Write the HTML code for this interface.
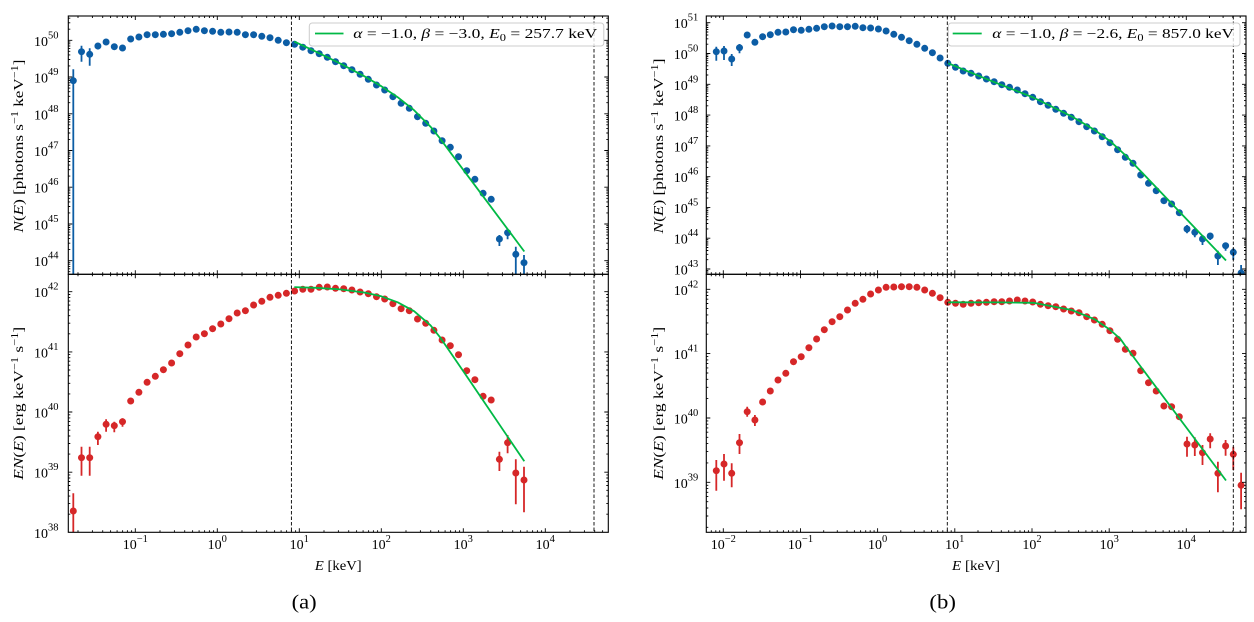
<!DOCTYPE html>
<html><head><meta charset="utf-8"><style>
html,body{margin:0;padding:0;background:#fff;}
svg{display:block;font-family:"Liberation Serif","DejaVu Serif",serif;}
</style></head><body>
<svg width="1254" height="622" viewBox="0 0 1254 622" xmlns="http://www.w3.org/2000/svg">
<defs>
<clipPath id="cau"><rect x="68.3" y="16" width="540" height="258.3"/></clipPath>
<clipPath id="cal"><rect x="68.3" y="274.3" width="540" height="258"/></clipPath>
<clipPath id="cbu"><rect x="706.3" y="16" width="539.7" height="258.3"/></clipPath>
<clipPath id="cbl"><rect x="706.3" y="274.3" width="539.7" height="258"/></clipPath>
<path id="xa" d="M135.3 0v4M217.3 0v4M299.3 0v4M381.3 0v4M463.3 0v4M545.3 0v4M78 0v2M92.4 0v2M102.7 0v2M110.6 0v2M117.1 0v2M122.6 0v2M127.4 0v2M131.6 0v2M160 0v2M174.4 0v2M184.7 0v2M192.6 0v2M199.1 0v2M204.6 0v2M209.4 0v2M213.6 0v2M242 0v2M256.4 0v2M266.7 0v2M274.6 0v2M281.1 0v2M286.6 0v2M291.4 0v2M295.6 0v2M324 0v2M338.4 0v2M348.7 0v2M356.6 0v2M363.1 0v2M368.6 0v2M373.4 0v2M377.6 0v2M406 0v2M420.4 0v2M430.7 0v2M438.6 0v2M445.1 0v2M450.6 0v2M455.4 0v2M459.6 0v2M488 0v2M502.4 0v2M512.7 0v2M520.6 0v2M527.1 0v2M532.6 0v2M537.4 0v2M541.6 0v2M570 0v2M584.4 0v2M594.7 0v2M602.6 0v2" stroke="#000" stroke-width="0.9" fill="none"/>
<path id="xb" d="M723.3 0v4M800.5 0v4M877.6 0v4M954.8 0v4M1032 0v4M1109.2 0v4M1186.3 0v4M711.3 0v2M715.8 0v2M719.7 0v2M746.5 0v2M760.1 0v2M769.8 0v2M777.2 0v2M783.4 0v2M788.5 0v2M793 0v2M796.9 0v2M823.7 0v2M837.3 0v2M847 0v2M854.4 0v2M860.6 0v2M865.7 0v2M870.2 0v2M874.1 0v2M900.8 0v2M914.4 0v2M924.1 0v2M931.5 0v2M937.7 0v2M942.8 0v2M947.3 0v2M951.2 0v2M978 0v2M991.6 0v2M1001.3 0v2M1008.7 0v2M1014.9 0v2M1020 0v2M1024.5 0v2M1028.4 0v2M1055.2 0v2M1068.8 0v2M1078.5 0v2M1085.9 0v2M1092.1 0v2M1097.2 0v2M1101.7 0v2M1105.6 0v2M1132.4 0v2M1146 0v2M1155.7 0v2M1163.1 0v2M1169.3 0v2M1174.4 0v2M1178.9 0v2M1182.8 0v2M1209.5 0v2M1223.1 0v2M1232.8 0v2M1240.2 0v2" stroke="#000" stroke-width="0.9" fill="none"/>
<path id="ya" d="M0 40.3h4M0 77h4M0 113.8h4M0 150.5h4M0 187.2h4M0 224h4M0 260.7h4M0 291.7h4M0 351.9h4M0 412h4M0 472.2h4M0 271.7h2M0 268.8h2M0 266.4h2M0 264.2h2M0 262.3h2M0 249.6h2M0 243.2h2M0 238.6h2M0 235h2M0 232.1h2M0 229.7h2M0 227.5h2M0 225.7h2M0 212.9h2M0 206.5h2M0 201.9h2M0 198.3h2M0 195.4h2M0 193h2M0 190.8h2M0 189h2M0 176.1h2M0 169.7h2M0 165.1h2M0 161.5h2M0 158.6h2M0 156.2h2M0 154h2M0 152.2h2M0 139.4h2M0 133h2M0 128.4h2M0 124.8h2M0 121.9h2M0 119.5h2M0 117.3h2M0 115.5h2M0 102.7h2M0 96.3h2M0 91.7h2M0 88.1h2M0 85.2h2M0 82.8h2M0 80.6h2M0 78.8h2M0 65.9h2M0 59.5h2M0 54.9h2M0 51.3h2M0 48.4h2M0 46h2M0 43.8h2M0 42h2M0 29.2h2M0 22.8h2M0 18.2h2M0 514.2h2M0 503.6h2M0 496.1h2M0 490.3h2M0 485.5h2M0 481.5h2M0 478h2M0 474.9h2M0 454.1h2M0 443.5h2M0 436h2M0 430.2h2M0 425.4h2M0 421.4h2M0 417.9h2M0 414.8h2M0 393.9h2M0 383.3h2M0 375.8h2M0 370h2M0 365.2h2M0 361.2h2M0 357.7h2M0 354.6h2M0 333.8h2M0 323.2h2M0 315.7h2M0 309.9h2M0 305.1h2M0 301.1h2M0 297.6h2M0 294.5h2" stroke="#000" stroke-width="0.9" fill="none"/>
<path id="yb" d="M0 22.7h4M0 53.5h4M0 84.3h4M0 115.1h4M0 145.9h4M0 176.7h4M0 207.4h4M0 238.2h4M0 269h4M0 289.3h4M0 353.6h4M0 418h4M0 482.3h4M0 273.8h2M0 272h2M0 270.4h2M0 259.7h2M0 254.3h2M0 250.5h2M0 247.5h2M0 245h2M0 243h2M0 241.2h2M0 239.6h2M0 228.9h2M0 223.5h2M0 219.7h2M0 216.7h2M0 214.2h2M0 212.2h2M0 210.4h2M0 208.8h2M0 198.1h2M0 192.7h2M0 188.9h2M0 185.9h2M0 183.4h2M0 181.4h2M0 179.6h2M0 178h2M0 167.4h2M0 162h2M0 158.2h2M0 155.2h2M0 152.7h2M0 150.7h2M0 148.9h2M0 147.3h2M0 136.6h2M0 131.2h2M0 127.4h2M0 124.4h2M0 121.9h2M0 119.9h2M0 118.1h2M0 116.5h2M0 105.8h2M0 100.4h2M0 96.6h2M0 93.6h2M0 91.1h2M0 89.1h2M0 87.3h2M0 85.7h2M0 75h2M0 69.6h2M0 65.8h2M0 62.8h2M0 60.3h2M0 58.3h2M0 56.5h2M0 54.9h2M0 44.2h2M0 38.8h2M0 35h2M0 32h2M0 29.5h2M0 27.5h2M0 25.7h2M0 24.1h2M0 527.3h2M0 516h2M0 508h2M0 501.7h2M0 496.6h2M0 492.3h2M0 488.6h2M0 485.3h2M0 462.9h2M0 451.6h2M0 443.6h2M0 437.3h2M0 432.2h2M0 427.9h2M0 424.2h2M0 420.9h2M0 398.6h2M0 387.3h2M0 379.3h2M0 373h2M0 367.9h2M0 363.6h2M0 359.9h2M0 356.6h2M0 334.2h2M0 322.9h2M0 314.9h2M0 308.6h2M0 303.5h2M0 299.2h2M0 295.5h2M0 292.2h2" stroke="#000" stroke-width="0.9" fill="none"/>
</defs>
<rect width="1254" height="622" fill="#fff"/>

<!-- ===== Panel (a) data ===== -->
<g clip-path="url(#cau)">
<path d="M73.3 69.3V274.3M81.5 45.7V61.7M89.7 48.3V65.7M97.9 43V49.5M499.4 235V246M507.6 230V239.3M515.8 246.7V274.3M524 255V274.3" stroke="#0C5DA5" stroke-width="1.8" fill="none"/>
<g fill="#0C5DA5">
<circle cx="73.3" cy="80.7" r="3.5"/><circle cx="81.5" cy="51.7" r="3.5"/><circle cx="89.7" cy="54.3" r="3.5"/><circle cx="97.9" cy="46" r="3.5"/><circle cx="106.1" cy="42" r="3.5"/><circle cx="114.3" cy="46.7" r="3.5"/><circle cx="122.5" cy="48" r="3.5"/><circle cx="130.7" cy="39" r="3.5"/><circle cx="138.9" cy="37" r="3.5"/><circle cx="147.1" cy="34.7" r="3.5"/><circle cx="155.3" cy="34.7" r="3.5"/><circle cx="163.4" cy="34.3" r="3.5"/><circle cx="171.6" cy="33.7" r="3.5"/><circle cx="179.8" cy="32.3" r="3.5"/><circle cx="188" cy="30.7" r="3.5"/><circle cx="196.2" cy="29.3" r="3.5"/><circle cx="204.4" cy="30.7" r="3.5"/><circle cx="212.6" cy="31.3" r="3.5"/><circle cx="220.8" cy="32.3" r="3.5"/><circle cx="229" cy="32" r="3.5"/><circle cx="237.2" cy="32.3" r="3.5"/><circle cx="245.4" cy="34.7" r="3.5"/><circle cx="253.6" cy="34.7" r="3.5"/><circle cx="261.8" cy="36.3" r="3.5"/><circle cx="270" cy="37.7" r="3.5"/><circle cx="278.2" cy="40.3" r="3.5"/><circle cx="286.4" cy="42.7" r="3.5"/><circle cx="294.6" cy="44.3" r="3.5"/><circle cx="302.8" cy="47.2" r="3.5"/><circle cx="311" cy="50.7" r="3.5"/><circle cx="319.2" cy="53.7" r="3.5"/><circle cx="327.3" cy="57.3" r="3.5"/><circle cx="335.5" cy="61.7" r="3.5"/><circle cx="343.7" cy="65.7" r="3.5"/><circle cx="351.9" cy="69.7" r="3.5"/><circle cx="360.1" cy="74.3" r="3.5"/><circle cx="368.3" cy="79.3" r="3.5"/><circle cx="376.5" cy="85" r="3.5"/><circle cx="384.7" cy="90" r="3.5"/><circle cx="392.9" cy="96.7" r="3.5"/><circle cx="401.1" cy="103.3" r="3.5"/><circle cx="409.3" cy="108.3" r="3.5"/><circle cx="417.5" cy="116.7" r="3.5"/><circle cx="425.7" cy="123.3" r="3.5"/><circle cx="433.9" cy="131" r="3.5"/><circle cx="442.1" cy="140.7" r="3.5"/><circle cx="450.3" cy="147.3" r="3.5"/><circle cx="458.5" cy="156.7" r="3.5"/><circle cx="466.7" cy="170.7" r="3.5"/><circle cx="474.9" cy="179.3" r="3.5"/><circle cx="483.1" cy="193.3" r="3.5"/><circle cx="491.2" cy="199.3" r="3.5"/><circle cx="499.4" cy="239" r="3.5"/><circle cx="507.6" cy="232.7" r="3.5"/><circle cx="515.8" cy="254.3" r="3.5"/><circle cx="524" cy="262.7" r="3.5"/>
</g>
<path d="M294.3 41.6L315.7 51.6L340.3 63.6L364.9 76.6L381.3 86.2L397.7 97.2L414.1 110.2L430.5 126.7L439.7 138.1L463.3 169.8L524.3 251.5" stroke="#00B945" stroke-width="1.8" fill="none" stroke-linejoin="round"/>
</g>

<g clip-path="url(#cal)">
<path d="M73.3 493.3V532.3M81.5 446.7V475.7M89.7 446.7V475.7M97.9 431.7V445M106.1 419.3V431.7M114.3 421.7V432.3M122.5 418.3V426.7M499.4 451.7V471M507.6 435V453.3M515.8 459.3V504.3M524 466.7V512.3" stroke="#d62728" stroke-width="1.8" fill="none"/>
<g fill="#d62728">
<circle cx="73.3" cy="511" r="3.5"/><circle cx="81.5" cy="457.7" r="3.5"/><circle cx="89.7" cy="457.7" r="3.5"/><circle cx="97.9" cy="436.7" r="3.5"/><circle cx="106.1" cy="424.3" r="3.5"/><circle cx="114.3" cy="425.7" r="3.5"/><circle cx="122.5" cy="421.7" r="3.5"/><circle cx="130.7" cy="401" r="3.5"/><circle cx="138.9" cy="392.3" r="3.5"/><circle cx="147.1" cy="382.3" r="3.5"/><circle cx="155.3" cy="376.3" r="3.5"/><circle cx="163.4" cy="369.7" r="3.5"/><circle cx="171.6" cy="363" r="3.5"/><circle cx="179.8" cy="353.7" r="3.5"/><circle cx="188" cy="345" r="3.5"/><circle cx="196.2" cy="337" r="3.5"/><circle cx="204.4" cy="333.7" r="3.5"/><circle cx="212.6" cy="328.7" r="3.5"/><circle cx="220.8" cy="324" r="3.5"/><circle cx="229" cy="318.7" r="3.5"/><circle cx="237.2" cy="313" r="3.5"/><circle cx="245.4" cy="310.7" r="3.5"/><circle cx="253.6" cy="305" r="3.5"/><circle cx="261.8" cy="301.3" r="3.5"/><circle cx="270" cy="297.3" r="3.5"/><circle cx="278.2" cy="295.3" r="3.5"/><circle cx="286.4" cy="293.3" r="3.5"/><circle cx="294.6" cy="291" r="3.5"/><circle cx="302.8" cy="289.3" r="3.5"/><circle cx="311" cy="289.3" r="3.5"/><circle cx="319.2" cy="287.3" r="3.5"/><circle cx="327.3" cy="287" r="3.5"/><circle cx="335.5" cy="288.3" r="3.5"/><circle cx="343.7" cy="288.7" r="3.5"/><circle cx="351.9" cy="290" r="3.5"/><circle cx="360.1" cy="292" r="3.5"/><circle cx="368.3" cy="293.7" r="3.5"/><circle cx="376.5" cy="296.7" r="3.5"/><circle cx="384.7" cy="299" r="3.5"/><circle cx="392.9" cy="303.7" r="3.5"/><circle cx="401.1" cy="308.7" r="3.5"/><circle cx="409.3" cy="310.7" r="3.5"/><circle cx="417.5" cy="319" r="3.5"/><circle cx="425.7" cy="323.3" r="3.5"/><circle cx="433.9" cy="330.3" r="3.5"/><circle cx="442.1" cy="340" r="3.5"/><circle cx="450.3" cy="345.7" r="3.5"/><circle cx="458.5" cy="354.7" r="3.5"/><circle cx="466.7" cy="370.7" r="3.5"/><circle cx="474.9" cy="379.7" r="3.5"/><circle cx="483.1" cy="396.3" r="3.5"/><circle cx="491.2" cy="400" r="3.5"/><circle cx="499.4" cy="459.3" r="3.5"/><circle cx="507.6" cy="442.7" r="3.5"/><circle cx="515.8" cy="473" r="3.5"/><circle cx="524" cy="480" r="3.5"/>
</g>
<path d="M294.3 287.1L315.7 287.8L340.3 289.4L364.9 292.6L381.3 296.3L397.7 302.3L414.1 311.2L430.5 325.3L439.7 336.8L463.3 371.2L524.3 461.3" stroke="#00B945" stroke-width="1.8" fill="none" stroke-linejoin="round"/>
</g>

<!-- ===== Panel (b) data ===== -->
<g clip-path="url(#cbu)">
<path d="M716.3 46.7V60.7M724 46V60M731.7 54V66M739.5 44V53.3M1187 225V233.3M1194.8 228.3V237.3M1202.5 235V245M1210.2 233.3V240M1217.9 250.7V265M1225.6 243.3V250.7M1233.3 248.3V260M1241.1 265V274.3" stroke="#0C5DA5" stroke-width="1.8" fill="none"/>
<g fill="#0C5DA5">
<circle cx="716.3" cy="51.7" r="3.5"/><circle cx="724" cy="51" r="3.5"/><circle cx="731.7" cy="59" r="3.5"/><circle cx="739.5" cy="47.7" r="3.5"/><circle cx="747.2" cy="35" r="3.5"/><circle cx="754.9" cy="42.3" r="3.5"/><circle cx="762.6" cy="36.7" r="3.5"/><circle cx="770.3" cy="34.7" r="3.5"/><circle cx="778" cy="32.3" r="3.5"/><circle cx="785.8" cy="32" r="3.5"/><circle cx="793.5" cy="29.7" r="3.5"/><circle cx="801.2" cy="30.3" r="3.5"/><circle cx="808.9" cy="29.3" r="3.5"/><circle cx="816.6" cy="28.3" r="3.5"/><circle cx="824.3" cy="26.7" r="3.5"/><circle cx="832.1" cy="26" r="3.5"/><circle cx="839.8" cy="26.7" r="3.5"/><circle cx="847.5" cy="26.7" r="3.5"/><circle cx="855.2" cy="26.3" r="3.5"/><circle cx="862.9" cy="27.7" r="3.5"/><circle cx="870.6" cy="28" r="3.5"/><circle cx="878.4" cy="29" r="3.5"/><circle cx="886.1" cy="31" r="3.5"/><circle cx="893.8" cy="34.3" r="3.5"/><circle cx="901.5" cy="37.3" r="3.5"/><circle cx="909.2" cy="40.7" r="3.5"/><circle cx="916.9" cy="44.3" r="3.5"/><circle cx="924.7" cy="48.3" r="3.5"/><circle cx="932.4" cy="52.7" r="3.5"/><circle cx="940.1" cy="58" r="3.5"/><circle cx="947.8" cy="63.3" r="3.5"/><circle cx="955.5" cy="67.3" r="3.5"/><circle cx="963.2" cy="71" r="3.5"/><circle cx="971" cy="73.3" r="3.5"/><circle cx="978.7" cy="76" r="3.5"/><circle cx="986.4" cy="79" r="3.5"/><circle cx="994.1" cy="81.7" r="3.5"/><circle cx="1001.8" cy="84.7" r="3.5"/><circle cx="1009.5" cy="87.3" r="3.5"/><circle cx="1017.3" cy="90" r="3.5"/><circle cx="1025" cy="93.7" r="3.5"/><circle cx="1032.7" cy="97.3" r="3.5"/><circle cx="1040.4" cy="101.7" r="3.5"/><circle cx="1048.1" cy="105.3" r="3.5"/><circle cx="1055.8" cy="109.3" r="3.5"/><circle cx="1063.6" cy="113.3" r="3.5"/><circle cx="1071.3" cy="117.3" r="3.5"/><circle cx="1079" cy="121.7" r="3.5"/><circle cx="1086.7" cy="126.7" r="3.5"/><circle cx="1094.4" cy="131" r="3.5"/><circle cx="1102.2" cy="136.7" r="3.5"/><circle cx="1109.9" cy="142.7" r="3.5"/><circle cx="1117.6" cy="149.7" r="3.5"/><circle cx="1125.3" cy="157.3" r="3.5"/><circle cx="1133" cy="163.3" r="3.5"/><circle cx="1140.7" cy="175" r="3.5"/><circle cx="1148.5" cy="183.3" r="3.5"/><circle cx="1156.2" cy="190.7" r="3.5"/><circle cx="1163.9" cy="200.7" r="3.5"/><circle cx="1171.6" cy="204" r="3.5"/><circle cx="1179.3" cy="212.7" r="3.5"/><circle cx="1187" cy="229" r="3.5"/><circle cx="1194.8" cy="232.3" r="3.5"/><circle cx="1202.5" cy="239" r="3.5"/><circle cx="1210.2" cy="236" r="3.5"/><circle cx="1217.9" cy="256" r="3.5"/><circle cx="1225.6" cy="245.7" r="3.5"/><circle cx="1233.3" cy="252.3" r="3.5"/><circle cx="1241.1" cy="273" r="3.5"/>
</g>
<path d="M948.3 63.3L990 80.4L1033.3 97.5L1071.7 116.4L1094.7 130L1110.3 141.3L1125.7 155.5L1141 171.5L1226 260.5" stroke="#00B945" stroke-width="1.8" fill="none" stroke-linejoin="round"/>
</g>

<g clip-path="url(#cbl)">
<path d="M716.3 460V490.7M724 454V480.7M731.7 463.3V487.3M739.5 434V454M747.2 406.7V416.7M754.9 415V426M1187 436.7V456.7M1194.8 437.3V456M1202.5 445V465M1210.2 433.3V448.3M1217.9 461.7V492.3M1225.6 440V455.7M1233.3 446.7V470M1241.1 472.7V509.3" stroke="#d62728" stroke-width="1.8" fill="none"/>
<g fill="#d62728">
<circle cx="716.3" cy="470.7" r="3.5"/><circle cx="724" cy="464" r="3.5"/><circle cx="731.7" cy="473.3" r="3.5"/><circle cx="739.5" cy="442.7" r="3.5"/><circle cx="747.2" cy="411.7" r="3.5"/><circle cx="754.9" cy="420" r="3.5"/><circle cx="762.6" cy="402" r="3.5"/><circle cx="770.3" cy="391" r="3.5"/><circle cx="778" cy="380" r="3.5"/><circle cx="785.8" cy="373.3" r="3.5"/><circle cx="793.5" cy="361.7" r="3.5"/><circle cx="801.2" cy="356.7" r="3.5"/><circle cx="808.9" cy="347.7" r="3.5"/><circle cx="816.6" cy="339" r="3.5"/><circle cx="824.3" cy="329.7" r="3.5"/><circle cx="832.1" cy="321.7" r="3.5"/><circle cx="839.8" cy="316.7" r="3.5"/><circle cx="847.5" cy="310" r="3.5"/><circle cx="855.2" cy="303.3" r="3.5"/><circle cx="862.9" cy="299.3" r="3.5"/><circle cx="870.6" cy="294" r="3.5"/><circle cx="878.4" cy="290" r="3.5"/><circle cx="886.1" cy="287.3" r="3.5"/><circle cx="893.8" cy="287" r="3.5"/><circle cx="901.5" cy="286.7" r="3.5"/><circle cx="909.2" cy="286.7" r="3.5"/><circle cx="916.9" cy="287.3" r="3.5"/><circle cx="924.7" cy="290" r="3.5"/><circle cx="932.4" cy="293.3" r="3.5"/><circle cx="940.1" cy="297.7" r="3.5"/><circle cx="947.8" cy="302.3" r="3.5"/><circle cx="955.5" cy="303.3" r="3.5"/><circle cx="963.2" cy="304.3" r="3.5"/><circle cx="971" cy="303.3" r="3.5"/><circle cx="978.7" cy="302.7" r="3.5"/><circle cx="986.4" cy="302.3" r="3.5"/><circle cx="994.1" cy="301.7" r="3.5"/><circle cx="1001.8" cy="301.7" r="3.5"/><circle cx="1009.5" cy="301" r="3.5"/><circle cx="1017.3" cy="300" r="3.5"/><circle cx="1025" cy="301" r="3.5"/><circle cx="1032.7" cy="302" r="3.5"/><circle cx="1040.4" cy="304.3" r="3.5"/><circle cx="1048.1" cy="305.7" r="3.5"/><circle cx="1055.8" cy="306.7" r="3.5"/><circle cx="1063.6" cy="309" r="3.5"/><circle cx="1071.3" cy="311" r="3.5"/><circle cx="1079" cy="312.7" r="3.5"/><circle cx="1086.7" cy="316.7" r="3.5"/><circle cx="1094.4" cy="320" r="3.5"/><circle cx="1102.2" cy="324.3" r="3.5"/><circle cx="1109.9" cy="330.7" r="3.5"/><circle cx="1117.6" cy="339.3" r="3.5"/><circle cx="1125.3" cy="349.3" r="3.5"/><circle cx="1133" cy="353.3" r="3.5"/><circle cx="1140.7" cy="370.7" r="3.5"/><circle cx="1148.5" cy="382.7" r="3.5"/><circle cx="1156.2" cy="391" r="3.5"/><circle cx="1163.9" cy="406" r="3.5"/><circle cx="1171.6" cy="406.7" r="3.5"/><circle cx="1179.3" cy="416.7" r="3.5"/><circle cx="1187" cy="444" r="3.5"/><circle cx="1194.8" cy="445" r="3.5"/><circle cx="1202.5" cy="452.7" r="3.5"/><circle cx="1210.2" cy="439" r="3.5"/><circle cx="1217.9" cy="473.3" r="3.5"/><circle cx="1225.6" cy="446" r="3.5"/><circle cx="1233.3" cy="454.3" r="3.5"/><circle cx="1241.1" cy="485.3" r="3.5"/>
</g>
<path d="M948.3 302.3L1000 302.4L1033.3 302.8L1071.7 310L1094.7 319.3L1110.3 330L1120.5 339L1125.7 346.5L1141 367L1226 480.5" stroke="#00B945" stroke-width="1.8" fill="none" stroke-linejoin="round"/>
</g>

<!-- dashed lines -->
<g stroke="#000" stroke-width="0.9" stroke-dasharray="3.5 2" fill="none">
<path d="M291.4 16V532.3M594 16V532.3M947.3 16V532.3M1233.3 16V532.3"/>
</g>

<!-- legends -->
<rect x="309.3" y="23" width="294.5" height="23" rx="3" fill="#fff" fill-opacity="0.8" stroke="#cccccc" stroke-width="1"/>
<line x1="315" y1="33.5" x2="343.5" y2="33.5" stroke="#00B945" stroke-width="1.8"/>
<text x="353.3" y="38" font-size="14" textLength="244" lengthAdjust="spacingAndGlyphs"><tspan font-style="italic">α</tspan> = −1.0, <tspan font-style="italic">β</tspan> = −3.0, <tspan font-style="italic">E</tspan><tspan font-size="10" dy="3">0</tspan><tspan dy="-3"> = 257.7 keV</tspan></text>

<rect x="948.3" y="23" width="291.7" height="23" rx="3" fill="#fff" fill-opacity="0.8" stroke="#cccccc" stroke-width="1"/>
<line x1="952.7" y1="33.5" x2="981.7" y2="33.5" stroke="#00B945" stroke-width="1.8"/>
<text x="992.3" y="38" font-size="14" textLength="241.7" lengthAdjust="spacingAndGlyphs"><tspan font-style="italic">α</tspan> = −1.0, <tspan font-style="italic">β</tspan> = −2.6, <tspan font-style="italic">E</tspan><tspan font-size="10" dy="3">0</tspan><tspan dy="-3"> = 857.0 keV</tspan></text>

<!-- axes frames -->
<g stroke="#000" stroke-width="1.1" fill="none">
<rect x="68.3" y="16" width="540" height="258.3"/>
<rect x="68.3" y="274.3" width="540" height="258"/>
<rect x="706.3" y="16" width="539.7" height="258.3"/>
<rect x="706.3" y="274.3" width="539.7" height="258"/>
</g>

<!-- ticks -->
<use href="#xa" transform="translate(0,16)"/>
<use href="#xa" transform="matrix(1 0 0 -1 0 274.3)"/>
<use href="#xa" transform="translate(0,274.3)"/>
<use href="#xa" transform="matrix(1 0 0 -1 0 532.3)"/>
<use href="#xb" transform="translate(0,16)"/>
<use href="#xb" transform="matrix(1 0 0 -1 0 274.3)"/>
<use href="#xb" transform="translate(0,274.3)"/>
<use href="#xb" transform="matrix(1 0 0 -1 0 532.3)"/>
<use href="#ya" transform="translate(68.3,0)"/>
<use href="#ya" transform="matrix(-1 0 0 1 608.3 0)"/>
<use href="#yb" transform="translate(706.3,0)"/>
<use href="#yb" transform="matrix(-1 0 0 1 1246 0)"/>

<!-- y tick labels (a) -->
<g font-size="14" text-anchor="end" fill="#000">
<text x="58.5" y="45.8">10<tspan font-size="10.5" dy="-7.5">50</tspan></text>
<text x="58.5" y="82.5">10<tspan font-size="10.5" dy="-7.5">49</tspan></text>
<text x="58.5" y="119.3">10<tspan font-size="10.5" dy="-7.5">48</tspan></text>
<text x="58.5" y="156">10<tspan font-size="10.5" dy="-7.5">47</tspan></text>
<text x="58.5" y="192.7">10<tspan font-size="10.5" dy="-7.5">46</tspan></text>
<text x="58.5" y="229.5">10<tspan font-size="10.5" dy="-7.5">45</tspan></text>
<text x="58.5" y="266.2">10<tspan font-size="10.5" dy="-7.5">44</tspan></text>
<text x="58.5" y="297.2">10<tspan font-size="10.5" dy="-7.5">42</tspan></text>
<text x="58.5" y="357.4">10<tspan font-size="10.5" dy="-7.5">41</tspan></text>
<text x="58.5" y="417.5">10<tspan font-size="10.5" dy="-7.5">40</tspan></text>
<text x="58.5" y="477.7">10<tspan font-size="10.5" dy="-7.5">39</tspan></text>
<text x="58.5" y="537.8">10<tspan font-size="10.5" dy="-7.5">38</tspan></text>
<!-- (b) -->
<text x="698.3" y="28.2">10<tspan font-size="10.5" dy="-7.5">51</tspan></text>
<text x="698.3" y="59">10<tspan font-size="10.5" dy="-7.5">50</tspan></text>
<text x="698.3" y="89.8">10<tspan font-size="10.5" dy="-7.5">49</tspan></text>
<text x="698.3" y="120.6">10<tspan font-size="10.5" dy="-7.5">48</tspan></text>
<text x="698.3" y="151.4">10<tspan font-size="10.5" dy="-7.5">47</tspan></text>
<text x="698.3" y="182.2">10<tspan font-size="10.5" dy="-7.5">46</tspan></text>
<text x="698.3" y="212.9">10<tspan font-size="10.5" dy="-7.5">45</tspan></text>
<text x="698.3" y="243.7">10<tspan font-size="10.5" dy="-7.5">44</tspan></text>
<text x="698.3" y="274.5">10<tspan font-size="10.5" dy="-7.5">43</tspan></text>
<text x="698.3" y="294.8">10<tspan font-size="10.5" dy="-7.5">42</tspan></text>
<text x="698.3" y="359.1">10<tspan font-size="10.5" dy="-7.5">41</tspan></text>
<text x="698.3" y="423.5">10<tspan font-size="10.5" dy="-7.5">40</tspan></text>
<text x="698.3" y="487.8">10<tspan font-size="10.5" dy="-7.5">39</tspan></text>
</g>

<!-- x tick labels -->
<g font-size="14" text-anchor="middle" fill="#000">
<text x="135.3" y="549">10<tspan font-size="10.5" dy="-7">−1</tspan></text>
<text x="217.3" y="549">10<tspan font-size="10.5" dy="-7">0</tspan></text>
<text x="299.3" y="549">10<tspan font-size="10.5" dy="-7">1</tspan></text>
<text x="381.3" y="549">10<tspan font-size="10.5" dy="-7">2</tspan></text>
<text x="463.3" y="549">10<tspan font-size="10.5" dy="-7">3</tspan></text>
<text x="545.3" y="549">10<tspan font-size="10.5" dy="-7">4</tspan></text>
<text x="723.3" y="549">10<tspan font-size="10.5" dy="-7">−2</tspan></text>
<text x="800.5" y="549">10<tspan font-size="10.5" dy="-7">−1</tspan></text>
<text x="877.6" y="549">10<tspan font-size="10.5" dy="-7">0</tspan></text>
<text x="954.8" y="549">10<tspan font-size="10.5" dy="-7">1</tspan></text>
<text x="1032" y="549">10<tspan font-size="10.5" dy="-7">2</tspan></text>
<text x="1109.2" y="549">10<tspan font-size="10.5" dy="-7">3</tspan></text>
<text x="1186.3" y="549">10<tspan font-size="10.5" dy="-7">4</tspan></text>
</g>

<!-- axis labels -->
<g font-size="14" text-anchor="middle" fill="#000">
<text x="338.3" y="570" textLength="46.7" lengthAdjust="spacingAndGlyphs"><tspan font-style="italic">E</tspan> [keV]</text>
<text x="976" y="570" textLength="48" lengthAdjust="spacingAndGlyphs"><tspan font-style="italic">E</tspan> [keV]</text>
<text transform="translate(23,146) rotate(-90)" textLength="173" lengthAdjust="spacingAndGlyphs"><tspan font-style="italic">N</tspan>(<tspan font-style="italic">E</tspan>) [photons s<tspan font-size="10" dy="-5">−1</tspan><tspan dy="5"> keV</tspan><tspan font-size="10" dy="-5">−1</tspan><tspan dy="5">]</tspan></text>
<text transform="translate(23,403.3) rotate(-90)" textLength="153" lengthAdjust="spacingAndGlyphs"><tspan font-style="italic">EN</tspan>(<tspan font-style="italic">E</tspan>) [erg keV<tspan font-size="10" dy="-5">−1</tspan><tspan dy="5"> s</tspan><tspan font-size="10" dy="-5">−1</tspan><tspan dy="5">]</tspan></text>
<text transform="translate(663,146) rotate(-90)" textLength="175" lengthAdjust="spacingAndGlyphs"><tspan font-style="italic">N</tspan>(<tspan font-style="italic">E</tspan>) [photons s<tspan font-size="10" dy="-5">−1</tspan><tspan dy="5"> keV</tspan><tspan font-size="10" dy="-5">−1</tspan><tspan dy="5">]</tspan></text>
<text transform="translate(663,403.3) rotate(-90)" textLength="153" lengthAdjust="spacingAndGlyphs"><tspan font-style="italic">EN</tspan>(<tspan font-style="italic">E</tspan>) [erg keV<tspan font-size="10" dy="-5">−1</tspan><tspan dy="5"> s</tspan><tspan font-size="10" dy="-5">−1</tspan><tspan dy="5">]</tspan></text>
</g>

<!-- panel captions -->
<g font-size="20" text-anchor="middle" fill="#000">
<text x="304.2" y="608.5" textLength="25" lengthAdjust="spacingAndGlyphs">(a)</text>
<text x="942.7" y="608.5" textLength="26.5" lengthAdjust="spacingAndGlyphs">(b)</text>
</g>
</svg>
</body></html>
